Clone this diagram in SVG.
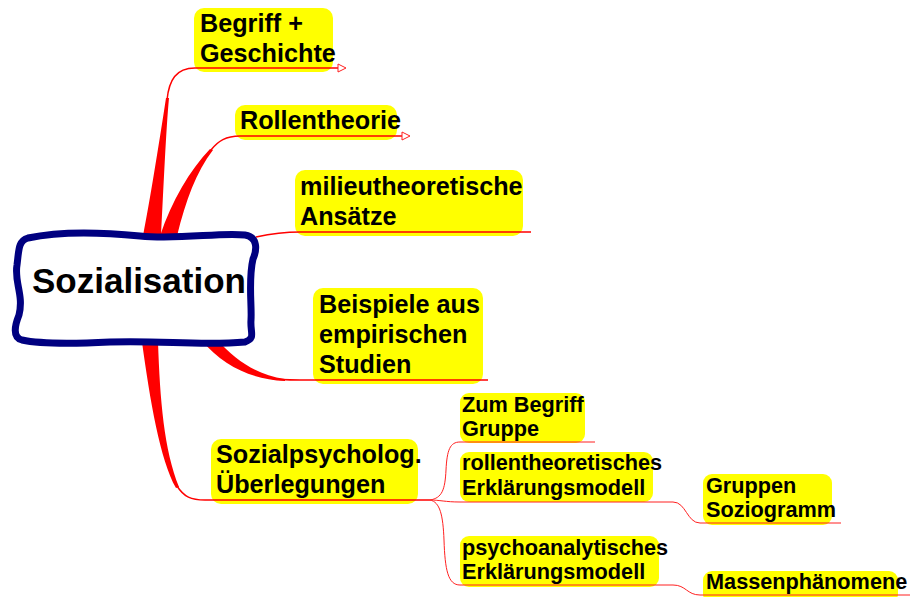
<svg xmlns="http://www.w3.org/2000/svg" width="910" height="597" viewBox="0 0 910 597">
  <style>
    .box { fill: #ffff00; }
    .t1 { font-family: "Liberation Sans", Arial, sans-serif; font-weight: bold; font-size: 25.2px; fill: #000; }
    .t2 { font-family: "Liberation Sans", Arial, sans-serif; font-weight: bold; font-size: 21.7px; fill: #000; }
    .wire { fill: none; stroke: #ff0000; stroke-width: 1.5; }
    .wire-thin { fill: none; stroke: #ff2020; stroke-width: 1; }
    .taper { fill: #ff0000; }
  </style>
  <defs>
    <marker id="openArrow" markerWidth="10" markerHeight="10" refX="1" refY="5" orient="auto" markerUnits="userSpaceOnUse">
      <path d="M1 1 L9 5 L1 9 Z" fill="#ffffff" stroke="#ff2020" stroke-width="1"/>
    </marker>
  </defs>

  <rect width="910" height="597" fill="#ffffff"/>

  <!-- topic boxes -->
  <g id="begriff">
    <rect class="box" x="194" y="8" width="139" height="64" rx="10"/>
    <text class="t1" x="200" y="32">Begriff +</text>
    <text class="t1" x="200" y="62">Geschichte</text>
  </g>

  <g id="rollentheorie">
    <rect class="box" x="235" y="105" width="162" height="35" rx="10"/>
    <text class="t1" x="240" y="129">Rollentheorie</text>
  </g>

  <g id="milieu">
    <rect class="box" x="295" y="170" width="228" height="66" rx="10"/>
    <text class="t1" x="300" y="195">milieutheoretische</text>
    <text class="t1" x="300" y="225">Ansätze</text>
  </g>

  <g id="beispiele">
    <rect class="box" x="313" y="288" width="170" height="96" rx="10"/>
    <text class="t1" x="319" y="313">Beispiele aus</text>
    <text class="t1" x="319" y="343">empirischen</text>
    <text class="t1" x="319" y="373">Studien</text>
  </g>

  <g id="sozialpsych">
    <rect class="box" x="211" y="439" width="207" height="65" rx="10"/>
    <text class="t1" x="216" y="463">Sozialpsycholog.</text>
    <text class="t1" x="216" y="493">Überlegungen</text>
  </g>

  <g id="gruppe">
    <rect class="box" x="460" y="393" width="125" height="50" rx="9"/>
    <text class="t2" x="462" y="412">Zum Begriff</text>
    <text class="t2" x="462" y="436">Gruppe</text>
  </g>

  <g id="rollenmodell">
    <rect class="box" x="460" y="452" width="193" height="50" rx="9"/>
    <text class="t2" x="462" y="470">rollentheoretisches</text>
    <text class="t2" x="462" y="495">Erklärungsmodell</text>
  </g>

  <g id="soziogramm">
    <rect class="box" x="703" y="474" width="129" height="51" rx="9"/>
    <text class="t2" x="706" y="493">Gruppen</text>
    <text class="t2" x="706" y="517">Soziogramm</text>
  </g>

  <g id="psychomodell">
    <rect class="box" x="460" y="536" width="199" height="51" rx="9"/>
    <text class="t2" x="462" y="555">psychoanalytisches</text>
    <text class="t2" x="462" y="579">Erklärungsmodell</text>
  </g>

  <g id="massen">
    <rect class="box" x="703" y="571" width="195" height="32" rx="9"/>
    <text class="t2" x="706" y="589">Massenphänomene</text>
  </g>

  <!-- connectors: underline-style branches running along each box bottom -->
  <g id="connectors">
    <path class="taper" d="M143 236 L161 236 C164 180 166 130 169 98 L166 98 C158 150 150 200 143 236 Z"/>
    <path class="wire" d="M167 100 C169 80 176 68 195 68 L338 68" marker-end="url(#openArrow)"/>

    <path class="taper" d="M160 236 L177 236 C186 200 196 172 213 150 L210 149 C190 170 172 200 160 236 Z"/>
    <path class="wire" d="M211 150 C218 141 226 136 240 136 L402 136" marker-end="url(#openArrow)"/>

    <path class="wire" d="M256 237 C270 234 285 232 300 232 L531 232"/>

    <path class="taper" d="M201 340 L217 340 C236 360 256 375 285 379 L285 381 C250 379 224 366 201 340 Z"/>
    <path class="wire" d="M270 378 C278 380 286 380 300 380 L488 380"/>

    <path class="taper" d="M142 342 L158 342 C160 400 164 450 179 487 L176 488 C160 460 150 400 142 342 Z"/>
    <path class="wire" d="M177 486 C184 497 191 500 205 500 L430 500"/>

    <path class="wire-thin" d="M430 500 C442 498 445 490 446 470 C447 450 450 442 460 442 L595 442"/>
    <path class="wire-thin" d="M430 500 C440 500 445 502 460 502 L673 502 C686 502 687 523 700 523 L841 523"/>
    <path class="wire-thin" d="M430 500 C440 502 443 515 444 540 C445 570 448 585 460 585 L673 585 C686 585 687 595 700 595 L910 595"/>
  </g>

  <!-- central node -->
  <g id="sozialisation">
    <path d="M28 238 C60 231 100 232 140 236 C180 240 220 232 245 235 C258 237 257 250 253 259 C248 280 252 305 251 320 C250 333 256 338 245 342 C200 346 160 340 110 342 C70 344 40 344 22 340 C12 337 15 325 19 315 C24 295 14 282 17 265 C19 250 18 241 28 238 Z" fill="#ffffff" stroke="#000080" stroke-width="7" stroke-linejoin="round"/>
    <text x="32" y="293" font-family="'Liberation Sans', Arial, sans-serif" font-weight="bold" font-size="35">Sozialisation</text>
  </g>
</svg>
